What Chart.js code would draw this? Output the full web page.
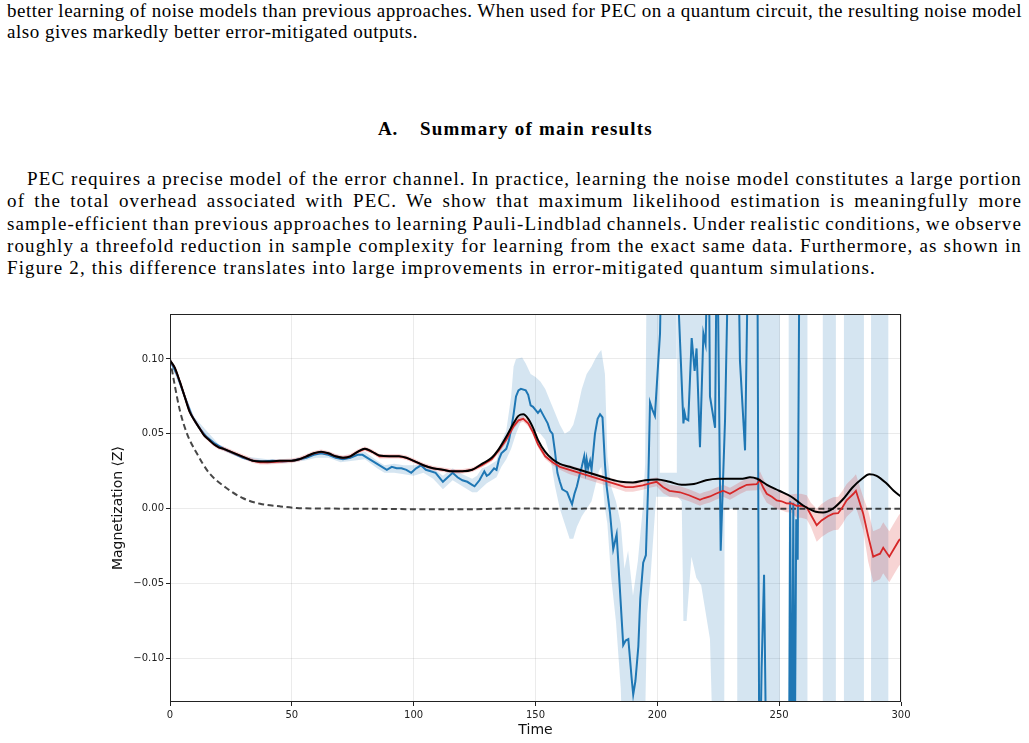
<!DOCTYPE html>
<html><head><meta charset="utf-8">
<script src="https://cdn.jsdelivr.net/npm/chart.js@4.4.0/dist/chart.umd.min.js"></script>
<style>
html,body{margin:0;padding:0;background:#fff;width:1029px;height:743px;overflow:hidden;}
.t{position:absolute;font-family:"Liberation Serif","DejaVu Serif",serif;font-size:19px;line-height:22px;color:#000;white-space:nowrap;letter-spacing:0px;}
.h{font-weight:bold;}
#wrap{position:absolute;left:100px;top:300px;width:830px;height:443px;}
</style></head>
<body>
<div class="t" data-g="a" data-mode="j" data-w="1015" style="left:7px;top:0px">better learning of noise models than previous approaches. When used for PEC on a quantum circuit, the resulting noise model</div>
<div class="t" data-g="a" data-mode="l" data-w="411" style="left:7px;top:21px">also gives markedly better error-mitigated outputs.</div>
<div class="t h" data-g="h1" data-mode="l" data-w="20" style="left:378px;top:118px">A.</div>
<div class="t h" data-g="h2" data-mode="l" data-w="233" style="left:420px;top:118px">Summary of main results</div>
<div class="t" data-g="p" data-mode="j" data-w="995" style="left:27px;top:168px">PEC requires a precise model of the error channel. In practice, learning the noise model constitutes a large portion</div>
<div class="t" data-g="p" data-mode="j" data-w="1015" style="left:7px;top:190px">of the total overhead associated with PEC. We show that maximum likelihood estimation is meaningfully more</div>
<div class="t" data-g="p" data-mode="j" data-w="1015" style="left:7px;top:213px">sample-efficient than previous approaches to learning Pauli-Lindblad channels. Under realistic conditions, we observe</div>
<div class="t" data-g="p" data-mode="j" data-w="1015" style="left:7px;top:235px">roughly a threefold reduction in sample complexity for learning from the exact same data. Furthermore, as shown in</div>
<div class="t" data-g="p" data-mode="l" data-w="869" style="left:7px;top:257px">Figure 2, this difference translates into large improvements in error-mitigated quantum simulations.</div>
<div id="wrap"><canvas id="c" width="830" height="443"></canvas></div>
<script>
// ---------- data ----------
const xTicks = [0, 50, 100, 150, 200, 250, 300];
const yTicks = [-0.10, -0.05, 0.00, 0.05, 0.10];

// exact (black)
const exactT = [0,2,4,6,8,10,12,14,16,18,20,22,25,28,31,34,37,40,45,50,53,56,59,62,65,68,71,74,77,80,83,86,90,94,97,100,104,108,112,116,120,124,128,132,135,138,141,143,145,147,149,151,154,157,160,164,168,172,176,180,185,190,195,200,205,210,215,220,225,230,235,238,241,245,250,255,260,265,268,272,276,280,284,287,290,294,297,300];
const exactV = [0.099,0.094,0.085,0.075,0.065,0.059,0.054,0.049,0.046,0.043,0.041,0.040,0.038,0.036,0.034,0.032,0.0315,0.0315,0.032,0.032,0.033,0.035,0.037,0.038,0.037,0.035,0.034,0.035,0.038,0.040,0.038,0.0355,0.035,0.035,0.034,0.032,0.029,0.027,0.026,0.025,0.025,0.026,0.030,0.034,0.040,0.048,0.057,0.062,0.063,0.060,0.054,0.046,0.038,0.033,0.030,0.028,0.026,0.024,0.022,0.020,0.018,0.0175,0.019,0.0195,0.018,0.016,0.0165,0.019,0.020,0.020,0.020,0.021,0.020,0.016,0.012,0.008,0.002,-0.002,-0.0025,0.000,0.006,0.014,0.020,0.023,0.022,0.017,0.012,0.008];

// unmitigated (dashed)
const noisyT = [0,2,4,7,11,16,23,30,37,45,52,60,80,100,120,140,160,180,200,220,240,260,280,300];
const noisyV = [0.100,0.082,0.066,0.050,0.037,0.024,0.014,0.007,0.0033,0.0016,0.0005,0.0002,0,-0.0003,-0.0004,0.0002,0,0.0002,0,0,-0.0001,0,0,0];

// MLE mitigated (red) with half-width of band
const redT = [0,2,4,6,8,10,12,14,16,18,20,22,25,28,31,34,37,40,45,50,53,56,59,62,65,68,71,74,77,80,83,86,90,94,97,100,104,108,112,116,120,124,128,132,135,138,141,143,145,147,149,151,154,157,160,164,168,172,176,180,183,187,190,194,197,199.7,202.4,205,209.3,213,217.5,219,221.6,224,227,229.8,232,233.9,236.7,240.8,242.1,243.5,244.9,247,249,251,253,255,257.2,259,261.3,263,265.4,267.4,270,272.2,274.2,276,277.7,280.5,281.5,284.5,286.5,288.6,290,291.4,292.7,295.2,297,299.2,300];
const redV = [0.099,0.094,0.085,0.075,0.065,0.059,0.054,0.049,0.046,0.043,0.041,0.040,0.038,0.036,0.034,0.032,0.031,0.031,0.0315,0.032,0.033,0.035,0.037,0.038,0.037,0.035,0.034,0.035,0.038,0.040,0.038,0.035,0.035,0.035,0.034,0.032,0.029,0.027,0.026,0.025,0.025,0.026,0.029,0.033,0.039,0.046,0.055,0.059,0.060,0.057,0.051,0.043,0.035,0.031,0.028,0.026,0.024,0.022,0.020,0.018,0.0165,0.0144,0.0144,0.0156,0.017,0.018,0.0144,0.012,0.011,0.009,0.006,0.007,0.0082,0.010,0.012,0.010,0.012,0.0138,0.016,0.0164,0.019,0.014,0.010,0.008,0.0056,0.005,0.0036,0.0035,0.002,0.002,0.001,-0.004,-0.011,-0.0078,-0.005,-0.0033,-0.003,0.001,0.0056,0.010,0.012,-0.0033,-0.018,-0.032,-0.031,-0.030,-0.026,-0.032,-0.027,-0.021,-0.020];
const redErr = [0.0015,0.0015,0.0015,0.0015,0.0015,0.0015,0.0015,0.0015,0.0015,0.0015,0.0015,0.0015,0.0015,0.0015,0.0015,0.0015,0.0015,0.0015,0.0015,0.0015,0.0015,0.0015,0.0015,0.0015,0.0015,0.0015,0.0015,0.0015,0.0015,0.0015,0.0015,0.0015,0.0015,0.0015,0.0015,0.0015,0.0015,0.0015,0.0015,0.0015,0.0015,0.0015,0.0015,0.0015,
0.002,0.002,0.002,0.002,0.002,0.002,0.002,0.002,0.002,0.002,0.002,
0.003,0.003,0.003,0.003,0.003,0.003,0.003,0.003,0.003,0.003,0.003,
0.004,0.004,0.004,0.004,0.004,0.004,0.004,0.004,0.004,0.004,0.004,0.004,0.004,0.004,
0.006,0.006,0.006,0.006,0.006,0.006,0.006,0.006,
0.008,0.008,0.008,0.008,
0.011,0.011,0.011,0.011,0.011,0.011,0.011,0.011,0.011,0.011,
0.017,0.017,0.017,0.017,0.017,0.017,0.017,0.017,0.017];

// previous method (blue)
const blueT = [0,3,6,9,12,15,18,22,26,30,34,38,42,46,50,53,56,59,62,65,68,71,74,77,79,81,83,85,87,89,91,93,95,97,99,101,103,105,107,109,111,112,114,116,118,120,122,124,125,127,129,130,131,133,134,135,136,138,139,140,141,142,143,144,146,147,148,149,150,151,152,153,154,155,156,157,158,159,160,161,162,163,164,165,166,167,168,169,170,170.6,171,171.6,172.4,173,174.4,175.5,176.5,177.5,178.5,179.2,180.6,181.9,183.3,184.5,186,187,188.1,189.5,190.1,191,192.2,193,194.2,195.3,196.3,197,198,199,201.1,202,208,208.6,210.7,211.2,211.7,212.7,214.1,215.3,216.1,217.5,218.9,219.8,221,221.6,223.7,224.5,226,227.8,229.5,233,233.9,236,237.5,241,241.9,242.8,243.8,244.9,254,254.5,255.2,255.8,256.3,257,257.6,258.4];
const blueV = [0.099,0.089,0.075,0.062,0.054,0.048,0.044,0.040,0.037,0.034,0.032,0.0315,0.032,0.0315,0.032,0.033,0.034,0.036,0.037,0.036,0.034,0.033,0.034,0.036,0.036,0.034,0.032,0.030,0.028,0.026,0.028,0.027,0.027,0.026,0.024,0.027,0.029,0.026,0.025,0.024,0.020,0.018,0.021,0.024,0.021,0.019,0.018,0.016,0.015,0.019,0.025,0.022,0.023,0.027,0.026,0.033,0.037,0.040,0.045,0.053,0.063,0.075,0.079,0.080,0.079,0.076,0.069,0.068,0.066,0.064,0.066,0.063,0.060,0.057,0.052,0.050,0.038,0.024,0.018,0.013,0.012,0.011,0.007,0.003,0.010,0.015,0.022,0.028,0.035,0.026,0.033,0.027,0.032,0.026,0.050,0.060,0.063,0.061,0.030,0.015,-0.003,-0.027,-0.017,-0.050,-0.091,-0.088,-0.087,-0.114,-0.124,-0.115,-0.092,-0.060,-0.036,-0.031,0.019,0.071,0.066,0.062,0.117,0.2,0.2,0.14,0.057,0.064,0.060,0.059,0.114,0.092,0.107,0.041,0.117,0.110,0.2,0.075,0.054,0.2,-0.028,0.060,0.2,0.2,0.099,0.039,0.2,0.2,-0.2,-0.106,-0.044,-0.2,-0.2,0.005,-0.2,0.004,-0.2,-0.007,-0.034,0.2];

// blue uncertainty band (null = no band)
const bandT  = [0,10,20,30,40,50,55,60,65,70,75,80,85,88,92,96,100,104,108,112,116,120,124,126,128,130,132,134,136,138,140,141,142,144.5,146,148,150,152,154,156,158,160,162,164,165.5,167,169,171,173,174.5,176,177,178.5,179.5,181,183,185,186.5,188,190,192,194,195,195.8,197,199.5,200.8,201,208,208.3,210,210.7,212,214,216,218,221.6,223.5,227.4,227.6,232.8,233,250.3,250.4,253.8,261.7,261.8,267.8,273.3,273.4,276.5,284.8,284.9,287.7,294.9];
const bandLo = [0.098,0.057,0.040,0.033,0.030,0.031,0.032,0.034,0.034,0.031,0.032,0.033,0.027,0.024,0.024,0.023,0.022,0.024,0.020,0.013,0.019,0.015,0.011,0.011,0.014,0.017,0.019,0.021,0.028,0.033,0.040,0.045,0.050,0.060,0.062,0.058,0.052,0.050,0.046,0.035,0.015,0.000,-0.010,-0.020,-0.020,-0.012,-0.005,0.000,0.005,0.015,0.025,0.028,0.000,-0.010,-0.045,-0.075,-0.120,-0.2,-0.2,-0.2,-0.2,-0.2,-0.14,-0.07,-0.05,0.008,0.008,0.008,0.008,0.008,0.005,-0.075,-0.075,-0.032,-0.046,-0.051,-0.087,-0.2,-0.2,0.0,0.0,-0.2,-0.2,null,-0.2,-0.2,null,-0.2,-0.2,null,-0.2,-0.2,null,-0.2,-0.2];
const bandHi = [0.100,0.061,0.043,0.035,0.033,0.033,0.035,0.038,0.038,0.035,0.036,0.038,0.032,0.029,0.030,0.029,0.029,0.030,0.027,0.022,0.027,0.023,0.020,0.022,0.027,0.028,0.030,0.032,0.045,0.052,0.075,0.095,0.100,0.101,0.097,0.090,0.088,0.085,0.080,0.072,0.064,0.056,0.050,0.052,0.056,0.065,0.080,0.090,0.095,0.100,0.104,0.106,0.090,0.035,0.015,0.005,-0.010,-0.040,-0.028,-0.058,-0.035,0.000,0.030,0.2,0.2,0.2,0.2,0.024,0.024,0.2,0.2,0.2,0.2,0.2,0.2,0.2,0.2,0.2,0.2,0.2,0.2,0.2,0.2,null,0.2,0.2,null,0.2,0.2,null,0.2,0.2,null,0.2,0.2];
// upper piece of blue band above the gap near t=201-208
const band2T  = [201, 208];
const band2Lo = [0.10, 0.10];
const band2Hi = [0.2, 0.2];

// ---------- build ----------
const pts = (T, V) => T.map((t, i) => ({x: t, y: V[i]}));
const redLo = redV.map((v, i) => v - redErr[i]);
const redHi = redV.map((v, i) => v + redErr[i]);
const BLUE = '#1f77b4', RED = '#d62728';
const lineBase = {pointRadius: 0, pointHoverRadius: 0, tension: 0, fill: false};
const bandBase = {pointRadius: 0, pointHoverRadius: 0, tension: 0, borderWidth: 0, borderColor: 'rgba(0,0,0,0)', spanGaps: false};

const frame = {id: 'frame', afterDatasetsDraw(c) {
  const a = c.chartArea, x = c.ctx;
  x.save(); x.strokeStyle = '#222'; x.lineWidth = 1;
  x.strokeRect(a.left + 0.5, a.top + 0.5, a.right - a.left - 1, a.bottom - a.top - 1);
  x.restore();
}};

const tickFont = {family: 'DejaVu Sans', size: 10};
new Chart(document.getElementById('c'), {
  type: 'line',
  data: {datasets: [
    Object.assign({}, lineBase, {label: 'exact', data: pts(exactT, exactV), borderColor: '#000', borderWidth: 2, tension: 0.4, cubicInterpolationMode: 'monotone', order: 0}),
    Object.assign({}, lineBase, {label: 'MLE', data: pts(redT, redV), borderColor: RED, borderWidth: 1.8, order: 1}),
    Object.assign({}, lineBase, {label: 'previous', data: pts(blueT, blueV), borderColor: BLUE, borderWidth: 2, order: 2}),
    Object.assign({}, lineBase, {label: 'noisy', data: pts(noisyT, noisyV), borderColor: 'rgba(0,0,0,0.72)', borderWidth: 2, borderDash: [6, 3.5], tension: 0.4, cubicInterpolationMode: 'monotone', order: 3}),
    Object.assign({}, bandBase, {label: 'redHi', data: pts(redT, redHi), fill: 5, backgroundColor: 'rgba(214,39,40,0.2)', order: 4}),
    Object.assign({}, bandBase, {label: 'redLo', data: pts(redT, redLo), fill: false, order: 5}),
    Object.assign({}, bandBase, {label: 'bandHi', data: pts(bandT, bandHi), fill: 7, backgroundColor: 'rgba(31,119,180,0.19)', order: 6}),
    Object.assign({}, bandBase, {label: 'bandLo', data: pts(bandT, bandLo), fill: false, order: 7}),
    Object.assign({}, bandBase, {label: 'band2Hi', data: pts(band2T, band2Hi), fill: 9, backgroundColor: 'rgba(31,119,180,0.19)', order: 8}),
    Object.assign({}, bandBase, {label: 'band2Lo', data: pts(band2T, band2Lo), fill: false, order: 9})
  ]},
  options: {
    responsive: false, animation: false, devicePixelRatio: 1,
    layout: {padding: {left: 0, right: 29, top: 14, bottom: 0}},
    plugins: {legend: {display: false}, tooltip: {enabled: false}},
    scales: {
      x: {type: 'linear', min: 0, max: 300,
        afterBuildTicks: s => { s.ticks = xTicks.map(v => ({value: v})); },
        afterFit: s => { s.height = 41; },
        grid: {color: 'rgba(0,0,0,0.08)', tickColor: '#222', tickLength: 4, lineWidth: 1},
        border: {display: false},
        ticks: {font: tickFont, color: '#222', padding: 3, maxRotation: 0, callback: v => String(v)},
        title: {display: true, text: 'Time', font: {family: 'DejaVu Sans', size: 14}, color: '#111', padding: {top: 0, bottom: 4}}
      },
      y: {type: 'linear', min: -0.129, max: 0.13,
        afterBuildTicks: s => { s.ticks = yTicks.map(v => ({value: v})); },
        afterFit: s => { s.width = 70; },
        grid: {color: 'rgba(0,0,0,0.08)', tickColor: '#222', tickLength: 4, lineWidth: 1},
        border: {display: false},
        ticks: {font: tickFont, color: '#222', padding: 2, callback: v => (Math.abs(v) < 1e-9 ? '0.00' : v.toFixed(2).replace('-', '\u2212'))},
        title: {display: true, text: 'Magnetization \u27E8Z\u27E9', font: {family: 'DejaVu Sans', size: 14}, color: '#111', padding: {top: 10, bottom: 0}}
      }
    }
  },
  plugins: [frame]
});

// ---------- text fitting (layout only) ----------
const els = Array.from(document.querySelectorAll('.t'));
const groupLS = {};
// first: letter-spacing from each group's unjustified line
els.filter(e => e.dataset.mode === 'l').forEach(el => {
  const w = el.getBoundingClientRect().width;
  const ls = (+el.dataset.w - w) / el.textContent.length;
  el.style.letterSpacing = ls + 'px';
  groupLS[el.dataset.g] = ls;
});
// then: justified lines take the group's letter-spacing and stretch word gaps
els.filter(e => e.dataset.mode === 'j').forEach(el => {
  el.style.letterSpacing = (groupLS[el.dataset.g] || 0) + 'px';
  const w = el.getBoundingClientRect().width;
  const n = (el.textContent.match(/ /g) || []).length;
  el.style.wordSpacing = ((+el.dataset.w - w) / n) + 'px';
});
</script>
</body></html>
